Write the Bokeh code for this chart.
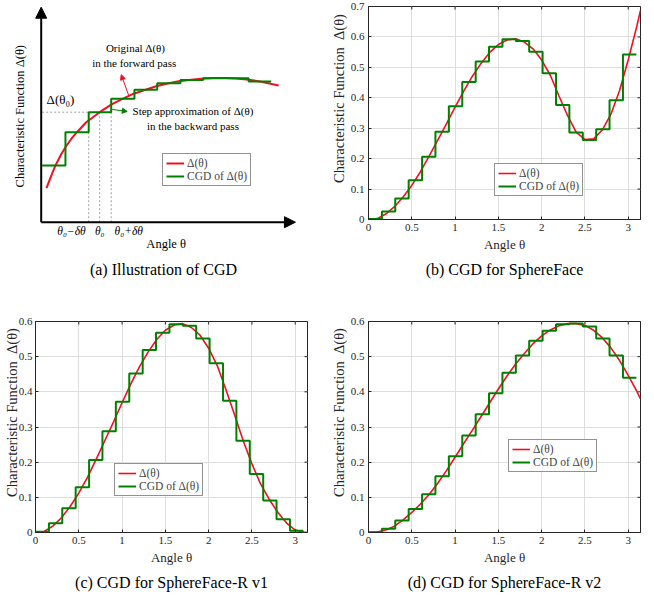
import math
from bokeh.plotting import figure
from bokeh.layouts import column, row
from bokeh.models import (Range1d, Legend, LegendItem, Arrow, NormalHead,
                          Title, FixedTicker)
from bokeh.core.properties import value
from bokeh.embed import file_html
from bokeh.resources import INLINE

# ---------------- data ----------------
theta = [0.0, 0.1, 0.2, 0.3, 0.4, 0.5, 0.6, 0.7, 0.8, 0.9, 1.0, 1.1, 1.2, 1.3, 1.4, 1.5,
         1.6, 1.7, 1.8, 1.9, 2.0, 2.1, 2.2, 2.3, 2.4, 2.5, 2.6, 2.7, 2.8, 2.9, 3.0, 3.1, 3.1416]

delta_sphereface = [0.000, 0.003, 0.018, 0.042, 0.074, 0.112, 0.157, 0.208, 0.261, 0.314, 0.369,
                    0.422, 0.471, 0.513, 0.549, 0.575, 0.590, 0.594, 0.583, 0.561, 0.524, 0.474,
                    0.406, 0.341, 0.286, 0.263, 0.265, 0.294, 0.346, 0.424, 0.525, 0.636, 0.687]

delta_r_v1 = [0.000, 0.003, 0.018, 0.042, 0.074, 0.112, 0.157, 0.208, 0.261, 0.314, 0.369,
              0.422, 0.471, 0.513, 0.549, 0.575, 0.590, 0.594, 0.583, 0.561, 0.524, 0.474,
              0.406, 0.334, 0.260, 0.195, 0.138, 0.094, 0.057, 0.027, 0.007, 0.001, 0.000]

delta_r_v2 = [0.000, 0.001, 0.007, 0.018, 0.036, 0.057, 0.081, 0.108, 0.140, 0.176, 0.214,
              0.253, 0.291, 0.330, 0.369, 0.408, 0.445, 0.479, 0.509, 0.537, 0.559, 0.576,
              0.588, 0.594, 0.594, 0.589, 0.575, 0.554, 0.525, 0.489, 0.447, 0.401, 0.380]

step_edges = [0.000, 0.155, 0.309, 0.464, 0.619, 0.773, 0.928, 1.083, 1.238, 1.392, 1.547,
              1.702, 1.856, 2.011, 2.166, 2.320, 2.475, 2.630, 2.784, 2.939, 3.094]

cgd_sphereface = [0.002, 0.026, 0.069, 0.129, 0.206, 0.288, 0.372, 0.452, 0.519, 0.568,
                  0.592, 0.587, 0.551, 0.481, 0.376, 0.286, 0.261, 0.297, 0.392, 0.542]
cgd_r_v1 = [0.002, 0.026, 0.069, 0.129, 0.206, 0.288, 0.372, 0.452, 0.519, 0.568,
            0.592, 0.588, 0.552, 0.481, 0.375, 0.261, 0.166, 0.091, 0.038, 0.005]
cgd_r_v2 = [0.001, 0.011, 0.034, 0.067, 0.109, 0.160, 0.217, 0.276, 0.336, 0.396,
            0.454, 0.503, 0.545, 0.574, 0.592, 0.594, 0.586, 0.552, 0.503, 0.440]

x_ticks = [0, 0.5, 1, 1.5, 2, 2.5, 3]
x_tick_labels = ["0", "0.5", "1", "1.5", "2", "2.5", "3"]
y_ticks_b = [0, 0.1, 0.2, 0.3, 0.4, 0.5, 0.6, 0.7]
y_tick_labels_b = ["0", "0.1", "0.2", "0.3", "0.4", "0.5", "0.6", "0.7"]
y_ticks_cd = [0, 0.1, 0.2, 0.3, 0.4, 0.5, 0.6]
y_tick_labels_cd = ["0", "0.1", "0.2", "0.3", "0.4", "0.5", "0.6"]

# illustration (panel a), arbitrary units
illus_theta = [0.21, 0.4, 0.57, 0.8, 0.97, 1.2, 1.43, 1.8, 2.34, 2.8, 3.27, 3.7, 4.18, 4.6,
               5.1, 5.5, 6.0, 6.5, 6.9, 7.4, 7.8, 8.3, 8.75, 9.5]
illus_delta = [1.36, 1.85, 2.27, 2.72, 3.0, 3.33, 3.6, 4.0, 4.4, 4.7, 4.94, 5.14, 5.3, 5.44,
               5.56, 5.64, 5.7, 5.75, 5.77, 5.77, 5.75, 5.7, 5.63, 5.47]
illus_step_edges = [0.04, 0.97, 1.9, 2.8, 3.73, 4.64, 5.57, 6.48, 7.38, 8.3, 9.2]
illus_step_values = [2.27, 3.6, 4.4, 4.94, 5.3, 5.56, 5.69, 5.76, 5.76, 5.63]
illus_marks = [1.9, 2.34, 2.8]          # theta0 - dtheta, theta0, theta0 + dtheta
illus_mark_labels = ["θ₀−δθ", "θ₀", "θ₀+δθ"]
illus_delta0 = 4.4

FONT = "Liberation Serif"
RED = "#F01020"
GREEN = "#008000"
DARK = "#262626"
GRIDC = "#DEDEDE"
YLABEL = "\u2003\u2003Characteristic Function\u2002Δ(θ)"


def style_legend(p, r1, r2, loc):
    leg = Legend(items=[LegendItem(label="Δ(θ)", renderers=[r1]),
                        LegendItem(label="CGD of Δ(θ)", renderers=[r2])],
                 location=loc)
    leg.border_line_color = DARK
    leg.border_line_width = 1
    leg.background_fill_color = "white"
    leg.background_fill_alpha = 1
    leg.padding = 3
    leg.spacing = 1
    leg.margin = 0
    leg.label_text_font = FONT
    leg.label_text_font_size = "11.5px"
    leg.label_height = 12
    leg.glyph_height = 12
    leg.glyph_width = 18
    leg.label_standoff = 3
    p.add_layout(leg)


def cgd_panel(red_vals, cgd_vals, y_ticks, y_labels, caption, legend_loc,
              width, height, ml, mr, mt, mb, cap_standoff, tick_standoff, label_standoff):
    p = figure(width=width, height=height, output_backend="svg", toolbar_location=None,
               title=None, frame_align=False,
               x_range=Range1d(0, theta[-1]), y_range=Range1d(y_ticks[0], y_ticks[-1]),
               min_border_left=ml, min_border_right=mr, min_border_top=mt, min_border_bottom=mb,
               x_axis_label="Angle θ", y_axis_label=YLABEL)
    p.outline_line_color = DARK
    p.outline_line_width = 1
    p.background_fill_color = "white"
    p.border_fill_color = "white"

    p.xaxis.ticker = FixedTicker(ticks=x_ticks)
    p.xaxis.major_label_overrides = dict(zip(x_ticks, x_tick_labels))
    p.yaxis.ticker = FixedTicker(ticks=y_ticks)
    p.yaxis.major_label_overrides = dict(zip(y_ticks, y_labels))
    p.xgrid.ticker = FixedTicker(ticks=x_ticks)
    p.ygrid.ticker = FixedTicker(ticks=y_ticks)
    p.grid.grid_line_color = GRIDC
    p.grid.grid_line_width = 1

    for ax in (p.xaxis[0], p.yaxis[0]):
        ax.major_tick_in = 3
        ax.major_tick_out = 0
        ax.minor_tick_line_color = None
        ax.axis_line_color = DARK
        ax.major_tick_line_color = DARK
        ax.major_label_text_font = FONT
        ax.major_label_text_font_size = "11px"
        ax.major_label_text_color = DARK
        ax.axis_label_text_font = FONT
        ax.axis_label_text_font_style = "normal"
        ax.axis_label_text_color = DARK
    p.xaxis.axis_label_text_font_size = "13px"
    p.yaxis.axis_label_text_font_size = "14.5px"
    p.xaxis.major_label_standoff = 4
    p.xaxis.axis_label_standoff = 3
    p.yaxis.major_label_standoff = tick_standoff
    p.yaxis.axis_label_standoff = label_standoff

    # MATLAB-style inward ticks on the top and right borders
    p.scatter(x=x_ticks, y=[y_ticks[-1]] * len(x_ticks), marker="dash", angle=math.pi / 2,
              size=6, line_color=DARK, line_width=1)
    p.scatter(x=[theta[-1]] * len(y_ticks), y=y_ticks, marker="dash",
              size=6, line_color=DARK, line_width=1)

    r1 = p.line(theta, red_vals, line_color=RED, line_width=1.6)
    r2 = p.step(step_edges, cgd_vals + [cgd_vals[-1]], mode="after",
                line_color=GREEN, line_width=2)
    style_legend(p, r1, r2, legend_loc)

    p.add_layout(Title(text=caption, align="center", text_font=FONT, text_font_size="16px",
                       text_font_style="normal", text_color="black", standoff=cap_standoff),
                 "below")
    return p


# ---------------- panel (a): illustration ----------------
pa = figure(width=327, height=297, output_backend="svg", toolbar_location=None,
            title=None, frame_align=False,
            x_range=Range1d(-1.628, 11.452), y_range=Range1d(-3.012, 8.868),
            x_axis_type=None, y_axis_type=None, min_border=0)
pa.outline_line_color = None

# dashed guide lines
pa.segment(x0=[illus_step_edges[0]], y0=[illus_delta0], x1=[illus_marks[0]], y1=[illus_delta0],
           line_color="#A0A0A0", line_width=1, line_dash="2 2")
pa.segment(x0=illus_marks, y0=[0] * 3, x1=illus_marks, y1=[illus_delta0] * 3,
           line_color="#A0A0A0", line_width=1, line_dash="2 2")

ra1 = pa.line(illus_theta, illus_delta, line_color=RED, line_width=2)
ra2 = pa.step(illus_step_edges, illus_step_values + [illus_step_values[-1]], mode="after",
              line_color=GREEN, line_width=2)

pa.add_layout(Arrow(x_start=0, y_start=0, x_end=10.17, y_end=0, line_width=2, line_color="black",
                    end=NormalHead(size=11, fill_color="black", line_color="black")))
pa.add_layout(Arrow(x_start=0, y_start=0, x_end=0, y_end=8.6, line_width=2, line_color="black",
                    end=NormalHead(size=11, fill_color="black", line_color="black")))
pa.add_layout(Arrow(x_start=3.5, y_start=5.07, x_end=3.2, y_end=5.9, line_width=1,
                    line_color=RED, end=NormalHead(size=5, fill_color=RED, line_color=RED)))
pa.add_layout(Arrow(x_start=2.84, y_start=4.51, x_end=3.44, y_end=4.43, line_width=1,
                    line_color=GREEN, end=NormalHead(size=5, fill_color=GREEN, line_color=GREEN)))


def atext(x, y, t, size, style="normal", align="center", angle=0.0):
    pa.text(x=[x], y=[y], text=[t], text_font=value(FONT), text_font_size=value(size),
            text_font_style=style, text_align=align, text_baseline="middle", angle=angle,
            text_color="black")


atext(3.77, 6.98, "Original Δ(θ)", "11px")
atext(3.72, 6.38, "in the forward pass", "11px")
atext(6.07, 4.43, "Step approximation of Δ(θ)", "11px")
atext(6.07, 3.83, "in the backward pass", "11px")
atext(0.77, 4.9, "Δ(θ₀)", "13px")
atext(illus_marks[0] - 0.69, -0.36, illus_mark_labels[0], "11.5px", "italic")
atext(illus_marks[1], -0.36, illus_mark_labels[1], "11.5px", "italic")
atext(illus_marks[2] + 0.70, -0.36, illus_mark_labels[2], "11.5px", "italic")
atext(5.0, -0.89, "Angle θ", "12.5px")
atext(-0.83, 4.24, "Characteristic Function Δ(θ)", "12.5px", angle=math.pi / 2)
atext(4.89, -1.892, "(a) Illustration of CGD", "16px")
style_legend(pa, ra1, ra2, (162, 111))

# ---------------- panels (b), (c), (d) ----------------
pb = cgd_panel(delta_sphereface, cgd_sphereface, y_ticks_b, y_tick_labels_b,
               "(b) CGD for SphereFace", (126, 23), 327, 297, 41, 14, 6, 78, 8, 4, 1)
pc = cgd_panel(delta_r_v1, cgd_r_v1, y_ticks_cd, y_tick_labels_cd,
               "(c) CGD for SphereFace-R v1", (79, 36), 327, 298, 33, 20, 24, 62, 9, 3, -4)
pd = cgd_panel(delta_r_v2, cgd_r_v2, y_ticks_cd, y_tick_labels_cd,
               "(d) CGD for SphereFace-R v2", (140, 60), 327, 298, 41, 14, 24, 62, 9, 4, 1)

layout = column(row(pa, pb, spacing=0), row(pc, pd, spacing=0), spacing=0)
open("out.html", "w").write(file_html(layout, INLINE))
